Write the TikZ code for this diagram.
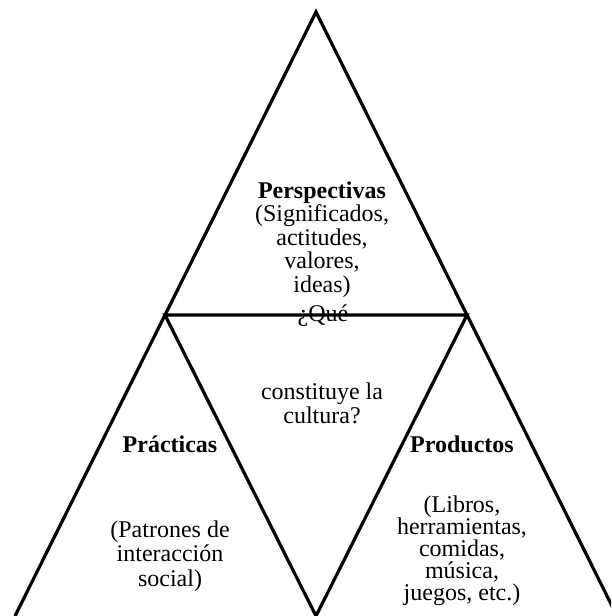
\documentclass[tikz,border=0pt]{standalone}
\usepackage{fontspec}
\setmainfont{Liberation Serif}
\begin{document}
\begin{tikzpicture}[x=1pt,y=-1pt,
  edge/.style={line width=3.2pt, line join=miter, line cap=butt},
  label/.style={inner sep=0pt, anchor=base, align=center, font=\fontsize{24}{23.5}\selectfont},
  head/.style={label, font=\fontsize{24}{23.5}\selectfont\bfseries}]
\useasboundingbox (0,0) rectangle (611,616);
% corner points of the triangles
\coordinate (apex) at (316,12);
\coordinate (midL) at (165,315);
\coordinate (midR) at (467,315);
\coordinate (tip)  at (316,616);
\coordinate (baseL) at (15,616);
\coordinate (baseR) at (617,616);
\begin{scope}
  \clip (0,0) rectangle (611,616);
  % outer triangle
  \draw[edge] (baseL) -- (apex) -- (baseR);
  % inner inverted triangle
  \draw[edge] (midL) -- (midR) -- (tip) -- cycle;
\end{scope}
% labels (a multi-line node is placed by the baseline of its last line)
\node[label] (persp) at (322,292) {\textbf{Perspectivas}\\(Significados,\\actitudes,\\valores,\\ideas)};
\node[label] (que) at (323,321) {¿Qué};
\node[label] (cult) at (322,423) {constituye la\\cultura?};
\node[head] (prac) at (170,452) {Prácticas};
\node[label, font=\fontsize{24}{24.5}\selectfont] (pracb) at (170,586) {(Patrones de\\interacción\\social)};
\node[head] (prod) at (462,452) {Productos};
\node[label, font=\fontsize{24}{22}\selectfont] (prodb) at (462,600) {(Libros,\\herramientas,\\comidas,\\música,\\juegos, etc.)};
\end{tikzpicture}
\end{document}
